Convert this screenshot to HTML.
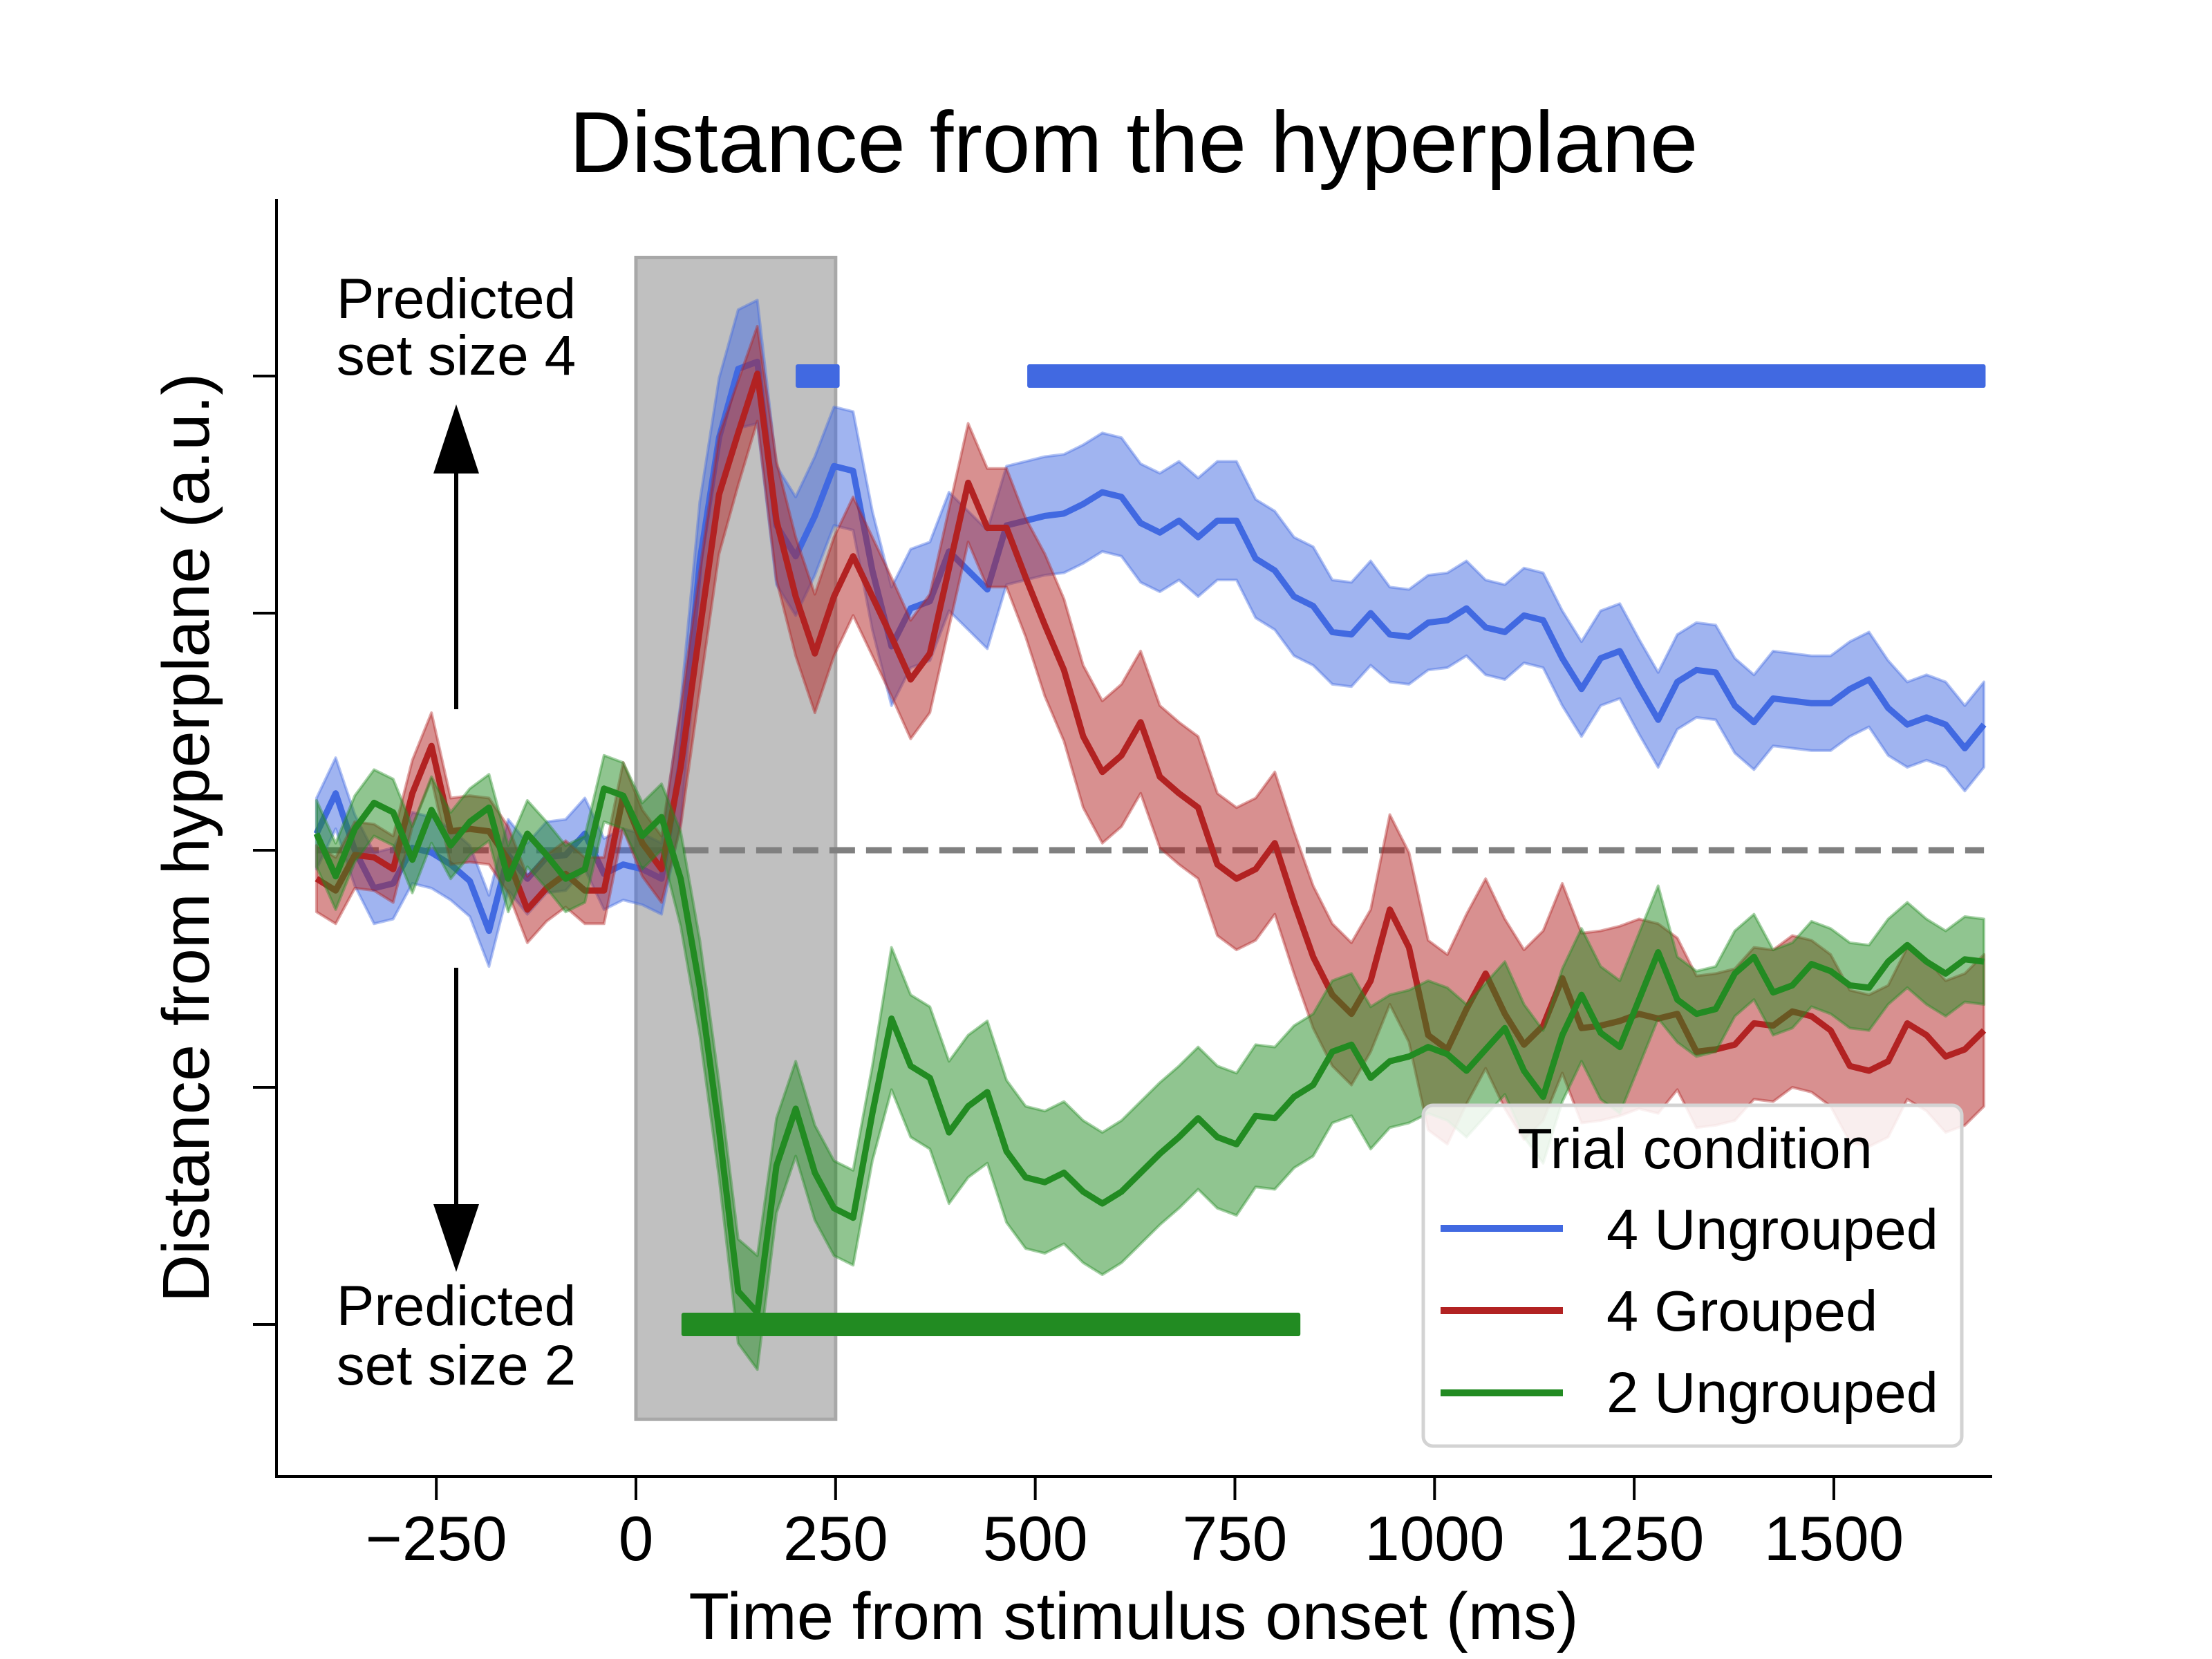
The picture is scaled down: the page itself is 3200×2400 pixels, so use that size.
<!DOCTYPE html>
<html><head><meta charset="utf-8"><style>
html,body{margin:0;padding:0;background:#fff;}
svg{display:block;font-family:"Liberation Sans",Arial,sans-serif;}
</style></head><body>
<svg id="chart" xmlns="http://www.w3.org/2000/svg" width="3200" height="2400" viewBox="0 0 3200 2400">
<rect width="3200" height="2400" fill="#fff"/>
<text x="1640" y="249" text-anchor="middle" font-size="125">Distance from the hyperplane</text>
<g id="plot"></g>
<line x1="400" y1="288" x2="400" y2="2138" stroke="#000" stroke-width="4"/>
<line x1="398" y1="2136" x2="2882" y2="2136" stroke="#000" stroke-width="4"/>
<g id="xticks"></g>
<g id="yticks"></g>
<text x="1640" y="2371" text-anchor="middle" font-size="96">Time from stimulus onset (ms)</text>
<text transform="translate(302,1212) rotate(-90)" text-anchor="middle" font-size="96">Distance from hyperplane (a.u.)</text>
<g font-size="82" text-anchor="middle">
<text x="660" y="460">Predicted</text><text x="660" y="542">set size 4</text></g>
<g font-size="82" text-anchor="middle">
<text x="660" y="1917">Predicted</text><text x="660" y="2003">set size 2</text></g>
<g><line x1="660" y1="1026" x2="660" y2="680" stroke="#000" stroke-width="6"/><polygon points="660,585 627,685 693,685" fill="#000"/></g>
<g><line x1="660" y1="1400" x2="660" y2="1745" stroke="#000" stroke-width="6"/><polygon points="660,1840 627,1742 693,1742" fill="#000"/></g>
<g>
<rect x="2059" y="1599" width="779" height="493" rx="14" fill="#fff" fill-opacity="0.85" stroke="#d3d3d3" stroke-width="5"/>
<text x="2452" y="1690" text-anchor="middle" font-size="83">Trial condition</text>
<g><line x1="2084" y1="1777" x2="2261" y2="1777" stroke="#4169e1" stroke-width="10"/><text x="2324" y="1807" font-size="83">4 Ungrouped</text></g>
<g><line x1="2084" y1="1896" x2="2261" y2="1896" stroke="#b22222" stroke-width="10"/><text x="2324" y="1925" font-size="83">4 Grouped</text></g>
<g><line x1="2084" y1="2015" x2="2261" y2="2015" stroke="#228b22" stroke-width="10"/><text x="2324" y="2043" font-size="83">2 Ungrouped</text></g>
</g>
</svg>
<script>
const t0 = -400, dt = 24;
const xTickValues = [-250, 0, 250, 500, 750, 1000, 1250, 1500];
const xTickLabels = ["\u2212250", "0", "250", "500", "750", "1000", "1250", "1500"];
const yTickValues = [2, 1, 0, -1, -2];
const blueMean = [0.07,0.24,0.0,-0.16,-0.14,0.01,-0.01,-0.06,-0.13,-0.34,-0.02,-0.12,-0.03,-0.02,0.07,-0.1,-0.06,-0.08,-0.12,0.37,1.22,1.74,2.03,2.06,1.37,1.24,1.41,1.62,1.6,1.18,0.86,1.02,1.05,1.26,1.18,1.1,1.37,1.39,1.41,1.42,1.46,1.51,1.49,1.38,1.34,1.39,1.32,1.39,1.39,1.23,1.18,1.07,1.03,0.92,0.91,1.0,0.91,0.9,0.96,0.97,1.02,0.94,0.92,0.99,0.97,0.81,0.68,0.81,0.84,0.69,0.55,0.71,0.76,0.75,0.61,0.54,0.64,0.63,0.62,0.62,0.68,0.72,0.6,0.53,0.56,0.53,0.43,0.53];
const redMean = [-0.12,-0.17,-0.02,-0.03,-0.08,0.24,0.44,0.08,0.09,0.08,-0.04,-0.25,-0.16,-0.1,-0.17,-0.17,0.23,0.03,-0.08,0.35,0.93,1.5,1.76,2.01,1.39,1.07,0.83,1.07,1.24,1.07,0.9,0.72,0.83,1.19,1.55,1.36,1.36,1.15,0.95,0.76,0.48,0.33,0.4,0.54,0.31,0.24,0.18,-0.06,-0.12,-0.08,0.03,-0.22,-0.45,-0.61,-0.69,-0.55,-0.25,-0.41,-0.78,-0.84,-0.67,-0.52,-0.69,-0.82,-0.74,-0.54,-0.75,-0.74,-0.72,-0.69,-0.71,-0.69,-0.85,-0.84,-0.82,-0.73,-0.74,-0.68,-0.7,-0.76,-0.91,-0.93,-0.89,-0.73,-0.78,-0.87,-0.84,-0.76];
const greenMean = [0.07,-0.11,0.09,0.2,0.16,-0.04,0.17,0.02,0.12,0.18,-0.12,0.07,-0.02,-0.12,-0.08,0.26,0.23,0.06,0.14,-0.12,-0.58,-1.18,-1.86,-1.95,-1.33,-1.09,-1.36,-1.51,-1.55,-1.11,-0.71,-0.91,-0.96,-1.19,-1.08,-1.02,-1.27,-1.38,-1.4,-1.36,-1.44,-1.49,-1.44,-1.36,-1.28,-1.21,-1.13,-1.21,-1.24,-1.12,-1.13,-1.04,-0.99,-0.85,-0.82,-0.96,-0.89,-0.87,-0.83,-0.86,-0.93,-0.84,-0.75,-0.93,-1.04,-0.78,-0.61,-0.77,-0.83,-0.63,-0.43,-0.63,-0.69,-0.67,-0.52,-0.45,-0.6,-0.57,-0.48,-0.51,-0.57,-0.58,-0.47,-0.4,-0.47,-0.52,-0.46,-0.47];
const blueErr = [0.15,0.15,0.15,0.15,0.15,0.15,0.15,0.15,0.15,0.15,0.15,0.15,0.15,0.15,0.15,0.15,0.15,0.15,0.15,0.25,0.25,0.25,0.25,0.26,0.25,0.25,0.25,0.25,0.25,0.25,0.25,0.25,0.25,0.25,0.25,0.25,0.25,0.25,0.25,0.25,0.25,0.25,0.25,0.25,0.25,0.25,0.25,0.25,0.25,0.25,0.25,0.25,0.25,0.22,0.22,0.22,0.2,0.2,0.2,0.2,0.2,0.2,0.2,0.2,0.2,0.2,0.2,0.2,0.2,0.2,0.2,0.2,0.2,0.2,0.2,0.2,0.2,0.2,0.2,0.2,0.2,0.2,0.2,0.18,0.18,0.18,0.18,0.18];
const redErr = [0.14,0.14,0.14,0.14,0.14,0.14,0.14,0.14,0.14,0.14,0.14,0.14,0.14,0.14,0.14,0.14,0.14,0.14,0.14,0.25,0.25,0.25,0.22,0.2,0.25,0.25,0.25,0.25,0.25,0.25,0.25,0.25,0.25,0.25,0.25,0.25,0.25,0.25,0.3,0.3,0.3,0.3,0.3,0.3,0.3,0.3,0.3,0.3,0.3,0.3,0.3,0.3,0.3,0.3,0.3,0.3,0.4,0.4,0.4,0.4,0.4,0.4,0.4,0.4,0.4,0.4,0.4,0.4,0.4,0.4,0.4,0.32,0.32,0.32,0.32,0.32,0.32,0.32,0.32,0.32,0.32,0.32,0.32,0.32,0.32,0.32,0.32,0.32];
const greenErr = [0.14,0.14,0.14,0.14,0.14,0.14,0.14,0.14,0.14,0.14,0.14,0.14,0.14,0.14,0.14,0.14,0.14,0.14,0.14,0.2,0.2,0.2,0.22,0.24,0.2,0.2,0.2,0.2,0.2,0.2,0.3,0.3,0.3,0.3,0.3,0.3,0.3,0.3,0.3,0.3,0.3,0.3,0.3,0.3,0.3,0.3,0.3,0.3,0.3,0.3,0.3,0.3,0.3,0.3,0.3,0.3,0.28,0.28,0.28,0.28,0.28,0.28,0.28,0.28,0.28,0.28,0.28,0.28,0.28,0.28,0.28,0.18,0.18,0.18,0.18,0.18,0.18,0.18,0.18,0.18,0.18,0.18,0.18,0.18,0.18,0.18,0.18,0.18];
const sigBlueStarts = [200, 490];
const sigBlueEnds = [255, 1690];
const sigGreenStarts = [57];
const sigGreenEnds = [832];
const shadeStart = 0, shadeEnd = 250, shadeTop = 2.5, shadeBottom = -2.4;

const X = t => 920 + 1.1553 * t;
const Y = v => 1230 - 343 * v;
const NS = "http://www.w3.org/2000/svg";
const plot = document.getElementById('plot');
function mk(tag, attrs, parent) {
  const e = document.createElementNS(NS, tag);
  for (const k in attrs) e.setAttribute(k, attrs[k]);
  (parent || plot).appendChild(e);
  return e;
}
const shade = mk('rect', {x: X(shadeStart), y: Y(shadeTop), width: X(shadeEnd) - X(shadeStart), height: Y(shadeBottom) - Y(shadeTop), fill: '#c0c0c0', stroke: '#a8a8a8', 'stroke-width': 5});


const zero = mk('line', {x1: X(t0), x2: X(t0 + dt * 87), y1: Y(0), y2: Y(0), stroke: '#808080', 'stroke-width': 9, 'stroke-dasharray': '37 16'});



const series = [
  {name: 'blue', mean: blueMean, err: blueErr, color: '#4169e1'},
  {name: 'red', mean: redMean, err: redErr, color: '#b22222'},
  {name: 'green', mean: greenMean, err: greenErr, color: '#228b22'}
];
series.forEach(s => {
  const n = s.mean.length;
  let up = [], lo = [], ln = [];
  for (let i = 0; i < n; i++) {
    const t = t0 + dt * i;
    up.push(X(t).toFixed(1) + ',' + Y(s.mean[i] + s.err[i]).toFixed(1));
    lo.unshift(X(t).toFixed(1) + ',' + Y(s.mean[i] - s.err[i]).toFixed(1));
    ln.push(X(t).toFixed(1) + ',' + Y(s.mean[i]).toFixed(1));
  }
  const band = mk('polygon', {points: up.concat(lo).join(' '), fill: s.color, 'fill-opacity': 0.5, stroke: s.color, 'stroke-opacity': 0.4, 'stroke-width': 4, 'stroke-linejoin': 'round'});
  
  
  const line = mk('polyline', {points: ln.join(' '), fill: 'none', stroke: s.color, 'stroke-width': 9, 'stroke-linejoin': 'round'});
  
  
});
sigBlueStarts.forEach((s, i) => {
  const b = mk('rect', {x: X(s), y: Y(2) - 17, width: X(sigBlueEnds[i]) - X(s), height: 34, fill: '#4169e1', rx: 3});
  
  
});
sigGreenStarts.forEach((s, i) => {
  const b = mk('rect', {x: X(s), y: Y(-2) - 17, width: X(sigGreenEnds[i]) - X(s), height: 34, fill: '#228b22', rx: 3});
  
  
});
const xt = document.getElementById('xticks');
xTickValues.forEach((v, i) => {
  const l = mk('line', {x1: X(v), x2: X(v), y1: 2136, y2: 2170, stroke: '#000', 'stroke-width': 4}, xt);
  
  
  const tx = mk('text', {x: X(v), y: 2257, 'text-anchor': 'middle', 'font-size': 91}, xt);
  tx.textContent = xTickLabels[i];
  
  
});
const yt = document.getElementById('yticks');
yTickValues.forEach(v => {
  const l = mk('line', {x1: 366, x2: 400, y1: Y(v), y2: Y(v), stroke: '#000', 'stroke-width': 4}, yt);
  
  
});
</script>
</body></html>
